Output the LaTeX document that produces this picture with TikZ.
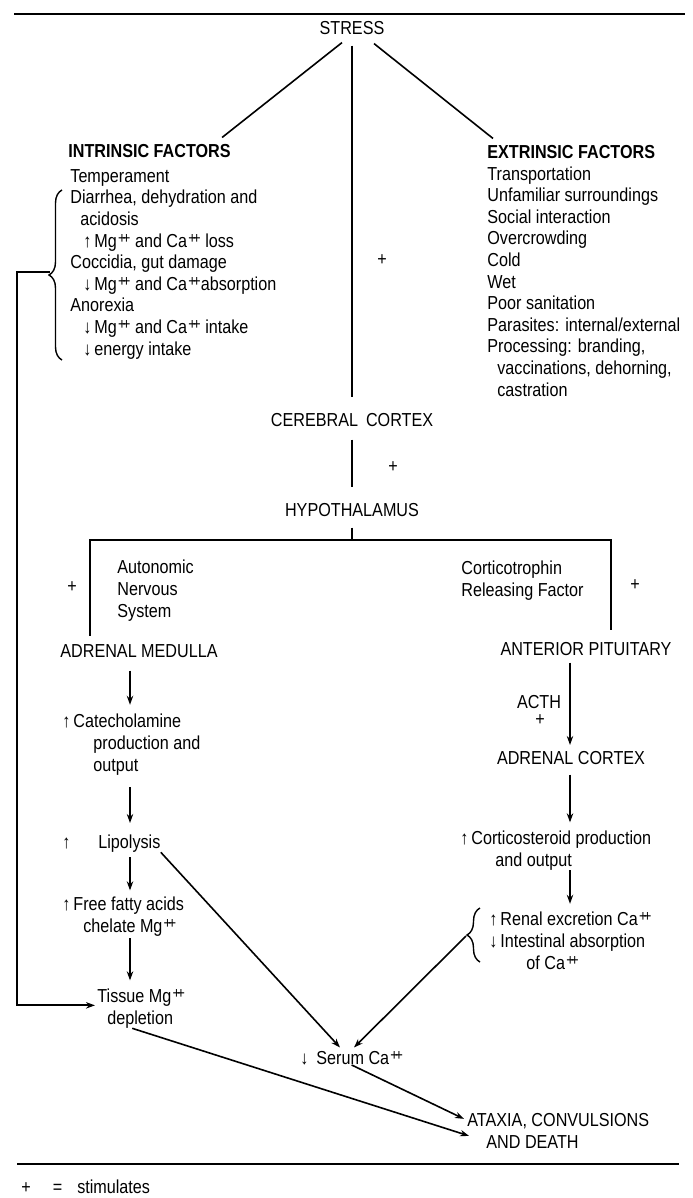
\documentclass[tikz,border=0pt]{standalone}
\usepackage{fontspec}
\setmainfont{Liberation Sans}[FakeStretch=0.86]
\usetikzlibrary{arrows.meta,calc,decorations.pathreplacing}

\newcommand{\ion}{\kern0.6pt\raisebox{0.4ex}{\fontsize{7.8}{7.8}\selectfont +\kern-1.6pt+}}
\newcommand{\incr}{\makebox[5.5pt][l]{↑}}
\newcommand{\decr}{\makebox[5.5pt][l]{↓}}

\begin{document}
\begin{tikzpicture}[x=0.5pt, y=-0.5pt,
  txt/.style={inner sep=0pt, font=\fontsize{9.4}{10.8}\selectfont},
  factor head/.style={txt, font=\fontsize{9.4}{10.8}\selectfont\bfseries, anchor=base west},
  factor list/.style={txt, align=left, anchor=base west},
  organ/.style={txt, anchor=base},
  stim/.style={txt, anchor=center},
  connect/.style={line width=0.8pt},
  arrow link/.style={connect, -{Stealth[length=4.5pt, width=3.2pt]}},
  frame rule/.style={line width=1pt},
  curly/.style={line width=0.7pt, decorate, decoration={brace, amplitude=6.5pt}}]

  \useasboundingbox (0,0) rectangle (692,1198);
  \draw[frame rule] (14,14) -- (685,14);
  \draw[frame rule] (17,1164) -- (679,1164);

  % stress and the factors (lists sit on the baseline of their last line)
  \node[organ] (stress) at (352,35) {STRESS};
  \node[factor head] (intr) at (68,158) {INTRINSIC FACTORS};
  \node[factor list] (ilist) at (70,355) {Temperament\\
    Diarrhea, dehydration and\\
    \hspace*{5pt}acidosis\\
    \hspace*{6.5pt}\incr Mg\ion{} and Ca\ion{} loss\\
    Coccidia, gut damage\\
    \hspace*{6.5pt}\decr Mg\ion{} and Ca\ion{}absorption\\
    Anorexia\\
    \hspace*{6.5pt}\decr Mg\ion{} and Ca\ion{} intake\\
    \hspace*{6.5pt}\decr energy intake};
  \node[factor head] (extr) at (487,159) {EXTRINSIC FACTORS};
  \node[factor list] (elist) at (487,396) {Transportation\\
    Unfamiliar surroundings\\
    Social interaction\\
    Overcrowding\\
    Cold\\
    Wet\\
    Poor sanitation\\
    Parasites: internal/external\\
    Processing: branding,\\
    \hspace*{5pt}vaccinations, dehorning,\\
    \hspace*{5pt}castration};
  \node[stim] (p1) at (382,260) {+};

  % brain
  \node[organ] (cortex) at (352,426) {CEREBRAL\hspace{4pt}CORTEX};
  \node[stim] (p2) at (393,467) {+};
  \node[organ] (hypo) at (352,516) {HYPOTHALAMUS};
  \node[factor list] (ans) at (117,617) {Autonomic\\ Nervous\\ System};
  \node[factor list] (crf) at (461,596) {Corticotrophin\\ Releasing Factor};
  \node[stim] (p3) at (72,587) {+};
  \node[stim] (p4) at (635,585) {+};

  % left column
  \node[organ] (medulla) at (139,657) {ADRENAL MEDULLA};
  \node[factor list] (catech) at (62,771) {\incr Catecholamine\\
    \hspace*{15.5pt}production and\\
    \hspace*{15.5pt}output};
  \node[factor list] (lipo) at (62,848) {\incr\hspace*{12.5pt}Lipolysis};
  \node[factor list] (ffa) at (62,932) {\incr Free fatty acids\\
    \hspace*{10.5pt}chelate Mg\ion};
  \node[factor list] (tissue) at (97,1024) {Tissue Mg\ion\\ \hspace*{5pt}depletion};

  % right column
  \node[organ] (pituitary) at (586,655) {ANTERIOR PITUITARY};
  \node[organ] (acth) at (539,708) {ACTH};
  \node[stim] (p5) at (540,720) {+};
  \node[organ] (adcortex) at (571,764) {ADRENAL CORTEX};
  \node[factor list] (cortico) at (460,866) {\incr Corticosteroid production\\
    \hspace*{17.5pt}and output};
  \node[factor list] (renal) at (489,969) {\incr Renal excretion Ca\ion\\
    \decr Intestinal absorption\\
    \hspace*{18.5pt}of Ca\ion};

  % outcome
  \node[factor list] (serum) at (300,1064) {\decr\hspace*{2.5pt}Serum Ca\ion};
  \node[factor list] (fate) at (467,1148) {ATAXIA, CONVULSIONS\\ \hspace*{9.5pt}AND DEATH};
  \node[factor list] (legend) at (21,1193) {+\hspace*{11pt}=\hspace*{7.5pt}stimulates};

  % braces
  \draw[curly] (62,360) -- (62,190);
  \coordinate (itip) at (50,272);
  \draw[curly] (480,962) -- (480,908);
  \coordinate (rtip) at (466,936);

  \coordinate (fork) at (352,540);
  \coordinate (lcol) at (130,0);
  \coordinate (rcol) at (570,0);

  \path[connect]
    ($(stress.south)+(-10,7)$) edge ($(intr.north east)+(-9,-7)$)
    (stress.south) edge[shorten <=5pt, shorten >=7.5pt] (cortex.north)
    ($(stress.south)+(22,8)$) edge ($(extr.north west)+(6,-7)$)
    (cortex.south) edge[shorten <=6.5pt, shorten >=7.5pt] (hypo.north);
  \draw[connect] (hypo.south) ++(0,11) -- (fork) -| ($(medulla.north)+(-49,-8)$);
  \draw[connect] (fork) -| ($(pituitary.north)+(25,-11)$);

  \path[arrow link]
    (medulla.south -| lcol) edge[shorten <=6.5pt, shorten >=4.5pt] (catech.north -| lcol)
    (catech.south -| lcol) edge[shorten <=6pt, shorten >=5.5pt] (lipo.north -| lcol)
    (lipo.south -| lcol) edge[shorten <=2.5pt, shorten >=3pt] (ffa.north -| lcol)
    (ffa.south -| lcol) edge[shorten <=1pt, shorten >=4pt] (tissue.north -| lcol)
    (pituitary.south -| rcol) edge[shorten <=3.5pt, shorten >=2.75pt] (adcortex.north -| rcol)
    (adcortex.south -| rcol) edge[shorten <=5pt, shorten >=4pt] (cortico.north -| rcol)
    (cortico.south -| rcol) edge[shorten >=4pt] (renal.north -| rcol)
    (lipo.south east) edge ($(serum.north west)+(40,-3)$)
    (rtip) edge ($(serum.north west)+(54,-3)$)
    (serum.south) edge ($(fate.north west)+(-3,6)$)
    ($(tissue.south)+(-9,0)$) edge ($(fate.north west)+(2,23)$);

  \draw[arrow link, line width=1.1pt] (itip) -- ++(-33,0) |- ($(tissue.west)+(-2,-3)$);
\end{tikzpicture}
\end{document}
